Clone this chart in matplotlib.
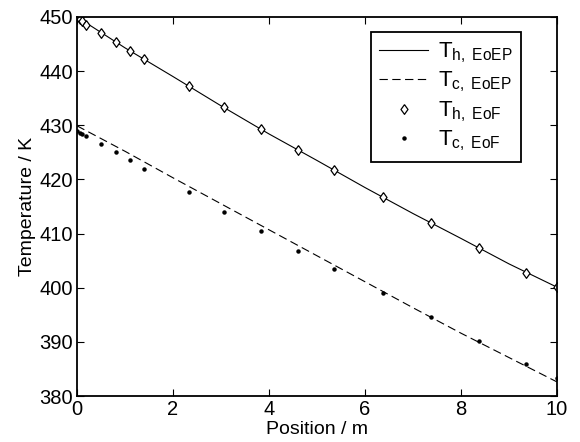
import matplotlib
matplotlib.use('Agg')
import matplotlib.pyplot as plt

plt.rcParams['font.family'] = ['Liberation Sans', 'DejaVu Sans']
plt.rcParams['mathtext.fontset'] = 'custom'
plt.rcParams['mathtext.rm'] = 'Liberation Sans'
plt.rcParams['mathtext.it'] = 'Liberation Sans'

# line model (EoEP)
x_line = [0, 1, 2, 3, 4, 5, 6, 7, 8, 9, 10]
th_line = [450.0, 444.3, 439.0, 433.6, 428.4, 423.5, 418.5, 413.7, 409.1, 404.4, 400.1]
tc_line = [429.9, 425.2, 420.3, 415.5, 410.7, 405.9, 401.1, 396.3, 391.6, 387.1, 382.6]

# point model (EoF)
x_pts = [0, 0.06, 0.11, 0.19, 0.51, 0.81, 1.1, 1.4, 2.33, 3.07, 3.83, 4.6, 5.36, 6.37, 7.37, 8.37, 9.36, 10]
th_pts = [450.0, 449.7, 449.3, 448.6, 447.0, 445.4, 443.7, 442.2, 437.3, 433.3, 429.3, 425.4,
          421.7, 416.7, 412.0, 407.4, 402.8, 400.1]
tc_pts = [428.9, 428.6, 428.3, 428.0, 426.5, 425.0, 423.5, 422.0, 417.6, 413.9, 410.4, 406.8,
          403.4, 399.0, 394.5, 390.2, 386.0, 383.4]

fig = plt.figure(figsize=(5.8, 4.42), dpi=100)
ax = fig.add_axes([77/580, 1-396/442, 480/580, 379/442])

diamond = [(0, 1), (0.72, 0), (0, -1), (-0.72, 0), (0, 1)]

ax.plot(x_line, th_line, '-', color='k', lw=0.8, label=r'$\mathrm{T}_{\mathrm{h,\ EoEP}}$')
ax.plot(x_line, tc_line, '--', color='k', lw=0.8, dashes=(7.5, 4),
        label=r'$\mathrm{T}_{\mathrm{c,\ EoEP}}$')
ax.plot(x_pts, th_pts, ls='none', marker=diamond, ms=7, mfc='white', mec='k', mew=0.9,
        label=r'$\mathrm{T}_{\mathrm{h,\ EoF}}$')
ax.plot(x_pts, tc_pts, ls='none', marker='o', ms=2.2, color='k',
        label=r'$\mathrm{T}_{\mathrm{c,\ EoF}}$')

ax.set_xlim(0, 10)
ax.set_ylim(380, 450)
ax.set_xticks(range(0, 11, 2))
ax.set_yticks(range(380, 451, 10))
ax.tick_params(direction='in', top=True, right=True, length=5, width=0.8,
               labelsize=14.5, pad=3)
for s in ax.spines.values():
    s.set_linewidth(1.3)

ax.set_xlabel('Position / m', fontsize=14, labelpad=1)
ax.set_ylabel('Temperature / K', fontsize=14, labelpad=2)

leg = ax.legend(loc='upper right', bbox_to_anchor=(0.926, 0.960), borderaxespad=0,
                fontsize=16, fancybox=False, framealpha=1, handlelength=2.2,
                handletextpad=0.45, labelspacing=0.22, borderpad=0.38)
leg.get_frame().set_edgecolor('k')
leg.get_frame().set_linewidth(1.3)

fig.savefig('out.png', dpi=100)
